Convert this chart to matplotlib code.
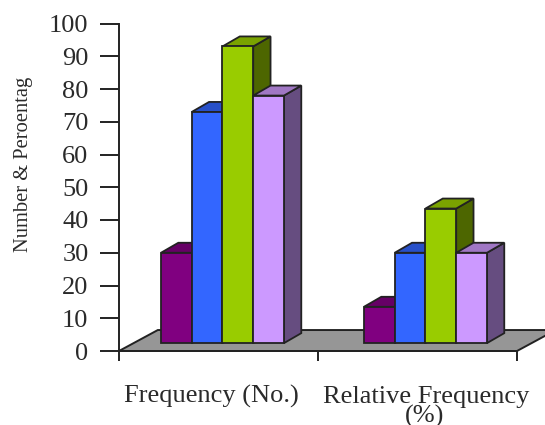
import matplotlib

matplotlib.use("Agg")
import matplotlib.pyplot as plt
from matplotlib.patches import Polygon

W, H = 545, 425

categories = ["Frequency (No.)", "Relative Frequency\n(%)"]
series_a = [30, 13.5]
series_b = [73, 30]
series_c = [93, 43.5]
series_d = [78, 30]
y_ticks = list(range(0, 101, 10))

fronts = ["#800080", "#3366FF", "#99CC00", "#CC99FF"]
tops = ["#660066", "#2850C8", "#7AA300", "#A077C4"]
sides = ["#4D004D", "#1F3D99", "#4D6600", "#664D80"]
edge = "#222222"
txt = "#2a2a2a"
serif = "Liberation Serif"

fig = plt.figure(figsize=(W / 100, H / 100), dpi=100, facecolor="white")
ax = fig.add_axes([119 / W, (H - 351) / H, (517 - 119) / W, (351 - 23.5) / H])
ax.set_xlim(0, 2)
ax.set_ylim(0, 100)
ax.patch.set_visible(False)

# pseudo 3d offsets, in data units
bar_w = 0.1545
bar_dx, bar_dy = 0.087, 3.05
floor_dx, floor_dy = 0.195, 6.4
base = 2.4

ax.add_patch(Polygon([(0, 0), (floor_dx, floor_dy), (2 + floor_dx, floor_dy), (2, 0)],
                     facecolor="#969696", edgecolor=edge, lw=1.4, clip_on=False, zorder=1))

all_series = [series_a, series_b, series_c, series_d]
starts = [0.211, 1.231]
z = 2
for g, x0 in enumerate(starts):
    for i, vals in enumerate(all_series):
        v = vals[g]
        x = x0 + i * bar_w
        ax.add_patch(Polygon([(x + bar_w, base), (x + bar_w + bar_dx, base + bar_dy),
                              (x + bar_w + bar_dx, v + bar_dy), (x + bar_w, v)],
                             facecolor=sides[i], edgecolor=edge, lw=1.3, clip_on=False, zorder=z))
        ax.add_patch(Polygon([(x, v), (x + bar_dx, v + bar_dy), (x + bar_w + bar_dx, v + bar_dy),
                              (x + bar_w, v)],
                             facecolor=tops[i], edgecolor=edge, lw=1.3, clip_on=False, zorder=z))
        ax.bar(x, v - base, bar_w, bottom=base, align="edge", color=fronts[i],
               edgecolor=edge, lw=1.3, clip_on=False, zorder=z + 1)
        z += 2

for s in ["top", "right"]:
    ax.spines[s].set_visible(False)
for s in ["left", "bottom"]:
    ax.spines[s].set_linewidth(1.4)
    ax.spines[s].set_color(edge)
    ax.spines[s].set_zorder(30)

ax.set_yticks(y_ticks)
ax.set_xticks([0, 1, 2])
ax.set_xticklabels([])
ax.tick_params(axis="x", length=7.5, width=1.4, color=edge)
ax.tick_params(axis="y", length=13.5, width=1.4, color=edge, labelsize=19, labelcolor=txt, pad=8.5)
for lab in ax.get_yticklabels():
    lab.set_fontfamily(serif)

fig.text(211.5 / W, 1 - 403 / H, categories[0], ha="center", va="baseline",
         family=serif, fontsize=19, color=txt)
fig.text(426 / W, 1 - 403 / H, categories[1].split("\n")[0], ha="center", va="baseline",
         family=serif, fontsize=19, color=txt)
fig.text(425 / W, 1 - 423 / H, categories[1].split("\n")[1], ha="center", va="baseline",
         family=serif, fontsize=19, color=txt)
fig.text(24 / W, 1 - 164.5 / H, "Number & Peroentag", rotation=90, ha="center", va="center",
         family=serif, fontsize=14.8, color=txt)

fig.savefig("out.png", dpi=100)
